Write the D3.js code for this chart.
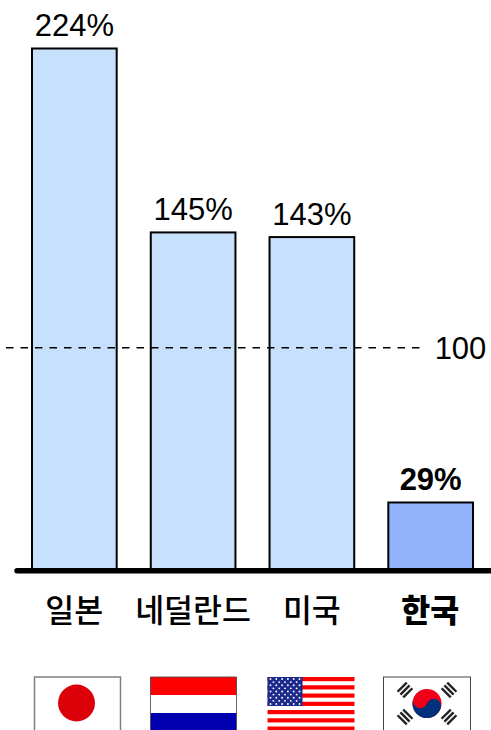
<!DOCTYPE html>
<html lang="ko"><head><meta charset="utf-8">
<script src="https://cdn.jsdelivr.net/npm/d3@7"></script>
<style>
html,body{margin:0;padding:0;background:#fff;overflow:hidden}
svg{display:block}
.v{font:31px "Liberation Sans",Arial,sans-serif;fill:#000;text-anchor:middle}
.c{font:500 31.5px "Noto Sans CJK KR",sans-serif;fill:#000;text-anchor:middle}
</style></head><body>
<svg id="c" width="491" height="730"></svg>
<script>
const categories = ["일본","네덜란드","미국","한국"];
const values = [224,145,143,29];
const valueLabels = ["224%","145%","143%","29%"];
const referenceLabel = "100";
const referenceLevel = 95.5; // where the dashed line sits on the bars' scale in the picture
const barColors = ["#c7e0fb","#c7e0fb","#c7e0fb","#91b3fb"];
const flagKeys = ["jp","nl","us","kr"];

const svg = d3.select("#c");
const x = d3.scaleBand().domain(categories).range([32,473]).paddingInner(0.287).paddingOuter(0);
const y = d3.scaleLinear().domain([0,224]).range([570,48.5]);

svg.selectAll("rect.bar").data(categories).join("rect").attr("class","bar")
 .attr("x",d=>x(d)).attr("width",x.bandwidth())
 .attr("y",(d,i)=>y(values[i])).attr("height",(d,i)=>y(0)-y(values[i]))
 .attr("fill",(d,i)=>barColors[i]).attr("stroke","#000").attr("stroke-width",2);

svg.append("line").attr("x1",6).attr("x2",421).attr("y1",y(referenceLevel)).attr("y2",y(referenceLevel))
 .attr("stroke","#000").attr("stroke-width",1.5).attr("stroke-dasharray","7.5 7");
svg.append("text").attr("class","v").attr("x",460.5).attr("y",y(referenceLevel)+11).text(referenceLabel);

svg.append("line").attr("x1",17).attr("x2",491).attr("y1",y(0)+.7).attr("y2",y(0)+.7)
 .attr("stroke","#000").attr("stroke-width",5.5).attr("stroke-linecap","round");

svg.selectAll("text.v2").data(categories).join("text").attr("class","v v2")
 .attr("x",d=>x(d)+x.bandwidth()/2).attr("y",(d,i)=>y(values[i])-12.5)
 .attr("style",(d,i)=>i==3?"font-weight:700;font-size:31px":"")
 .text((d,i)=>valueLabels[i]);

svg.selectAll("text.c").data(categories).join("text").attr("class","c")
 .attr("x",d=>x(d)+x.bandwidth()/2-(d=="한국"?0.5:0)).attr("y",622)
 .attr("style",d=>d=="한국"?"font-weight:800":"")
 .text(d=>d);

// flags
const fw=86, fy=677, fh=53;
const fx={jp:34.5,nl:150.5,us:267.5,kr:383.5};
const flag=k=>svg.append("g").attr("transform",`translate(${fx[k]},${fy})`);

let g=flag("jp");
g.append("rect").attr("width",fw).attr("height",fh+4).attr("fill","#fff").attr("stroke","#808080").attr("stroke-width",1.5);
g.append("circle").attr("cx",42).attr("cy",26).attr("r",18.5).attr("fill","#dc0008");

g=flag("nl");
[["#ff0000",0],["#fff",18],["#0000b0",36]].forEach(([f,t])=>g.append("rect").attr("y",t).attr("width",fw).attr("height",18).attr("fill",f));
g.append("rect").attr("width",fw).attr("height",fh+4).attr("fill","none").attr("stroke","#444").attr("stroke-width",.8);

g=flag("us");
d3.range(0,7).forEach(i=>g.append("rect").attr("y",i*8.25).attr("width",fw+1).attr("height",4.2).attr("fill","#ff0000"));
g.append("rect").attr("width",35).attr("height",29).attr("fill","#1c2a8c");
d3.range(0,9).forEach(r=>d3.range(0,r%2?5:6).forEach(c=>g.append("circle")
  .attr("cx",3+c*5.8+(r%2?2.9:0)).attr("cy",2+r*3.12).attr("r",.95).attr("fill","#fff")));

g=flag("kr");
g.append("rect").attr("width",fw+1).attr("height",fh+4).attr("fill","#fff").attr("stroke","#444").attr("stroke-width",1);
const kc=g.append("g").attr("transform","translate(43.5,26.5) rotate(20)");
const r=14.5;
kc.append("circle").attr("r",r).attr("fill","#ef0018");
kc.append("path").attr("d",`M${-r},0 A${r},${r} 0 0 0 ${r},0 A${r/2},${r/2} 0 0 0 0,0 A${r/2},${r/2} 0 0 1 ${-r},0Z`).attr("fill","#00307c");
[[-1,-1],[1,-1],[-1,1],[1,1]].forEach(([sx,sy])=>{
  const a=g.append("g").attr("transform",`translate(${43.5+sx*22},${26.5+sy*13.5}) rotate(${sx*sy>0?-45:45})`);
  [-4,0,4].forEach(d=>a.append("rect").attr("x",-6.5).attr("y",d-1.2).attr("width",13).attr("height",2.4).attr("fill","#222"));
});
</script></body></html>
